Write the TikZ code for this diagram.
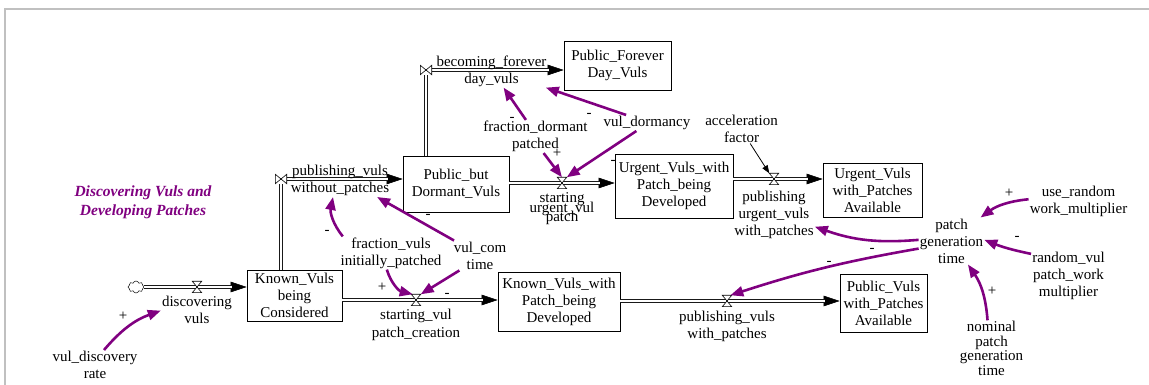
\documentclass[tikz,border=0pt]{standalone}
\usepackage{fontspec}
\setmainfont{Liberation Serif}
\usetikzlibrary{arrows.meta,shapes.symbols}
\definecolor{linkpurple}{RGB}{128,0,128}
\definecolor{framegray}{RGB}{192,192,192}

% let lines of a label sit closer than their glyphs would allow
\newcommand\tightlines{\lineskiplimit=-30pt\relax}
% hourglass valve on a horizontal pipe, bow-tie valve on a turned pipe
\newcommand\drawvalveH[1]{\draw[valveline] (#1.north west) -- (#1.north east) -- (#1.south west) -- (#1.south east) -- cycle;}
\newcommand\drawvalveV[1]{\draw[valveline] (#1.north west) -- (#1.south west) -- (#1.north east) -- (#1.south east) -- cycle;}

\begin{document}
\begin{tikzpicture}[x=1pt,y=1pt,
  lbl/.style={align=center,inner sep=1pt,font=\fontsize{15}{17}\selectfont\tightlines},
  stock/.style={draw,line width=0.8pt,align=center,inner sep=0pt,font=\fontsize{15}{17}\selectfont},
  valvebox/.style={inner sep=0pt,minimum width=9pt,minimum height=11pt},
  valveside/.style={inner sep=0pt,minimum width=11pt,minimum height=9pt},
  valveline/.style={draw=black,fill=white,line width=0.6pt,line join=miter},
  pipe/.style={draw=black!90,double=white,double distance=2.4pt,line width=0.9pt,line join=miter,shorten >=15pt},
  pipetip/.style={draw=black,line width=0.5pt,-{Triangle[length=16pt,width=10.5pt]}},
  link/.style={draw=linkpurple,line width=2.6pt,-{Triangle[length=13pt,width=10pt]}},
  plainlink/.style={draw=black,line width=0.8pt,-{Triangle[length=8pt,width=6pt]}},
  sign/.style={font=\fontsize{15}{17}\selectfont,inner sep=0pt},
]
\useasboundingbox (0,0) rectangle (1149,385);
\draw[framegray,line width=1.5pt] (5,0) -- (5,376) -- (1149,376);

% title
\node[align=center,text=linkpurple,font=\fontsize{15.5}{19}\selectfont\bfseries\itshape] (title) at (143,182.5) {Discovering Vuls and\\Developing Patches};

% stocks
\node[stock,minimum width=95pt,minimum height=51pt] (KVC) at (294.5,89.5) {Known\_Vuls\\being\\Considered};
\node[stock,minimum width=106pt,minimum height=56pt] (PBD) at (456,201) {Public\_but\\Dormant\_Vuls};
\node[stock,minimum width=107pt,minimum height=49pt] (PFD) at (617.5,319.5) {Public\_Forever\\Day\_Vuls};
\node[stock,minimum width=118pt,minimum height=64pt] (UVP) at (674,199) {Urgent\_Vuls\_with\\Patch\_being\\Developed};
\node[stock,minimum width=99pt,minimum height=54pt] (UVA) at (872.5,195) {Urgent\_Vuls\\with\_Patches\\Available};
\node[stock,minimum width=122pt,minimum height=59pt] (KVP) at (559,83.5) {Known\_Vuls\_with\\Patch\_being\\Developed};
\node[stock,minimum width=87pt,minimum height=58pt] (PVA) at (883.5,82) {Public\_Vuls\\with\_Patches\\Available};

% source cloud and valve positions
\node[cloud,cloud puffs=8,draw,line width=0.5pt,inner sep=0pt,minimum width=16pt,minimum height=12pt] (cloud) at (136,98) {};
\node[valvebox] (vDV) at (197,98) {};
\node[valveside] (vPW) at (281,206) {};
\node[valveside] (vBF) at (426,315) {};
\node[valvebox] (vSU) at (562,202) {};
\node[valvebox] (vPU) at (774,206) {};
\node[valvebox] (vSV) at (416,85) {};
\node[valvebox] (vPP) at (727,84) {};

% pipes
\path[pipetip] (cloud.east) -- (vDV -| KVC.west);
\path[pipe] (cloud.east) -- (vDV -| KVC.west);
\path[pipetip] (vPW) -- (vPW -| PBD.west);
\path[pipe] (vPW |- KVC.north) -- (vPW) -- (vPW -| PBD.west);
\path[pipetip] (vBF) -- (vBF -| PFD.west);
\path[pipe] (vBF |- PBD.north) -- (vBF) -- (vBF -| PFD.west);
\path[pipetip] (vSU -| PBD.east) -- (vSU -| UVP.west);
\path[pipe] (vSU -| PBD.east) -- (vSU -| UVP.west);
\path[pipetip] (vPU -| UVP.east) -- (vPU -| UVA.west);
\path[pipe] (vPU -| UVP.east) -- (vPU -| UVA.west);
\path[pipetip] (vSV -| KVC.east) -- (vSV -| KVP.west);
\path[pipe] (vSV -| KVC.east) -- (vSV -| KVP.west);
\path[pipetip] (vPP -| KVP.east) -- (vPP -| PVA.west);
\path[pipe] (vPP -| KVP.east) -- (vPP -| PVA.west);

\drawvalveH{vDV}
\drawvalveV{vPW}
\drawvalveV{vBF}
\drawvalveH{vSU}
\drawvalveH{vPU}
\drawvalveH{vSV}
\drawvalveH{vPP}

% flow names
\node[lbl] (dv) at (197,75) {discovering\\vuls};
\node[lbl] (pvw) at (340,204.5) {publishing\_vuls\\without\_patches};
\node[lbl] (bfd) at (491.5,314) {becoming\_forever\\day\_vuls};
\node[lbl,font=\fontsize{15}{9.5}\selectfont\tightlines] (sup) at (562,176) {starting\\urgent\_vul\\patch};
\node[lbl] (puv) at (774,170) {publishing\\urgent\_vuls\\with\_patches};
\node[lbl,font=\fontsize{15}{18}\selectfont\tightlines] (svp) at (416,60) {starting\_vul\\patch\_creation};
\node[lbl] (pvp) at (727,58.5) {publishing\_vuls\\with\_patches};

% auxiliaries
\node[lbl] (vdr) at (95,20) {vul\_discovery\\rate};
\node[lbl] (fvi) at (391,132) {fraction\_vuls\\initially\_patched};
\node[lbl] (vct) at (480,129.5) {vul\_com\\time};
\node[lbl] (fdp) at (535.5,248.5) {fraction\_dormant\\patched};
\node[lbl] (vdo) at (647,262) {vul\_dormancy};
\node[lbl] (acf) at (741.5,256.5) {acceleration\\factor};
\node[lbl] (pgt) at (951.5,144) {patch\\generation\\time};
\node[lbl] (urw) at (1078.5,184) {use\_random\\work\_multiplier};
\node[lbl] (rvp) at (1068.5,109.5) {random\_vul\\patch\_work\\multiplier};
\node[lbl,font=\fontsize{15}{14.5}\selectfont\tightlines] (npg) at (991.5,36.5) {nominal\\patch\\generation\\time};

% causal links
\draw[link] (vdr.59) to[bend left=15] (dv.181);
\draw[link] (fvi.161) to[bend left=25] (pvw.247);
\draw[link] (vct.150) -- (pvw.-24);
\draw[link] (fvi.256) to[bend right=30] (vSV.120);
\draw[link] (vct.216) -- (vSV.north east);
\draw[link] (fdp.120) -- (bfd.-54);
\draw[link] (vdo.159) -- (bfd.-17);
\draw[link] (fdp.-64) -- (vSU.north);
\draw[link] (vdo.217) -- (vSU.north east);
\draw[plainlink] (acf.-60) -- (vPU.north west);
\draw[link] (pgt.178) to[bend left=12] (puv.-16);
\draw[link] (pgt.193) to[bend right=4] (vPP.60);
\draw[link] (urw.178) to[bend right=15] (pgt.39);
\draw[link] (rvp.150) to[bend left=5] (pgt.2);
\draw[link] (npg.98) to[bend right=15] (pgt.-55);

% link polarities
\node[sign] (s1) at (123,69) {+};
\node[sign] (s2) at (327,153) {-};
\node[sign] (s3) at (428,169) {-};
\node[sign] (s4) at (382,98) {+};
\node[sign] (s5) at (447,90) {-};
\node[sign] (s6) at (512,266) {-};
\node[sign] (s7) at (589,270) {-};
\node[sign] (s8) at (557,232) {+};
\node[sign] (s9) at (613,223) {-};
\node[sign] (s10) at (1009,192) {+};
\node[sign] (s11) at (1017,147) {-};
\node[sign] (s12) at (992,94) {+};
\node[sign] (s13) at (872,135) {-};
\node[sign] (s14) at (829,122) {-};
\end{tikzpicture}
\end{document}
